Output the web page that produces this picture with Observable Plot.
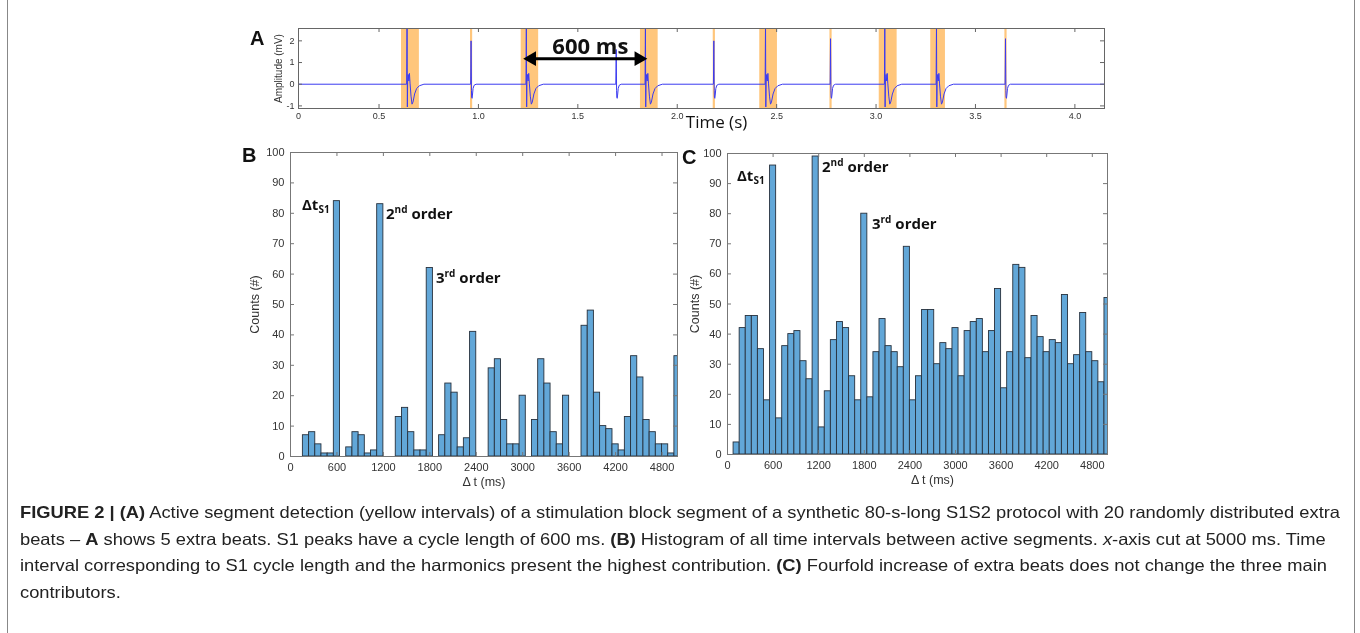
<!DOCTYPE html>
<html>
<head>
<meta charset="utf-8">
<script src="https://cdn.jsdelivr.net/npm/d3@7"></script>
<script src="https://cdn.jsdelivr.net/npm/@observablehq/plot@0.6"></script>
<style>
  body { margin: 0; background: #fff; }
  #fig { position: relative; width: 1360px; height: 633px; overflow: hidden; background: #fff; font-family: "Liberation Sans", Arial, sans-serif; }
  .letter { position: absolute; font-family: "Liberation Sans", Arial, sans-serif; font-weight: bold; font-size: 20px; color: #111; line-height: 1; }
  .ann { position: absolute; font-family: "Open Sans", sans-serif; font-weight: bold; font-size: 15px; color: #111; line-height: 1; white-space: nowrap; }
  .ann sup { font-size: 10px; vertical-align: 6px; }
  .ann sub { font-size: 10px; vertical-align: -3px; }
  .cap { position: absolute; left: 20px; white-space: nowrap; font-family: "Liberation Sans Narrow", "Arial Narrow", "Liberation Sans", sans-serif; font-size: 16.5px; color: #222; line-height: 26px; transform-origin: 0 0; }
  .border { position: absolute; top: 0; width: 0; height: 633px; border-left: 1.5px solid #888; }
</style>
</head>
<body>
<div id="fig"></div>
<script>
// ---------------- Panel A data (ECG trace, seconds / mV) ----------------
const aXDomain = [0.095, 4.149];
const aYDomain = [-1.12, 2.57];
const aXTicks = [0.095, 0.5, 1.0, 1.5, 2.0, 2.5, 3.0, 3.5, 4.0];
const aYTicks = [-1, 0, 1, 2];
// broad (paced) complexes inside active segments
const broadBeats = [0.641, 1.241, 1.840, 2.444, 3.044, 3.304];
// narrow spikes (extra beats) and their peak amplitudes
const narrowBeats = [0.963, 1.693, 2.184, 2.771, 3.651];
const narrowPeaks = [2.0, 1.6, 2.0, 2.1, 2.1];
// waveform shapes: [ms after onset, mV]
const broadShape = [[-2, 0], [0, 2.8], [1.5, -1.05], [3, 0.1], [6, 0.45], [9, 0.15], [12, 0.5], [15, 0.05], [20, -0.55], [25, -0.92], [30, -0.82], [38, -0.45], [48, -0.2], [62, -0.07], [85, 0]];
const narrowShape = [[-2, 0], [0, null], [2, -0.3], [3, -0.6], [5, -0.65], [7, -0.5], [10, -0.2], [15, -0.05], [25, 0]];
// detected active segments (yellow intervals)
const segStart = [0.613, 1.215, 1.815, 2.415, 3.016, 3.275];
const segEnd   = [0.703, 1.303, 1.904, 2.504, 3.106, 3.349];
const segLines = [0.963, 2.184, 2.771, 3.651];
// 600 ms annotation
const arrowFrom = 1.248, arrowTo = 1.827, arrowLevel = 1.18;

// ---------------- Panel B / C data (histograms, 80 ms bins) ----------------
const binWidth = 80;
const binStarts = d3.range(0, 5040, 80);
const countsB = [0, 0, 7, 8, 4, 1, 1, 84, 0, 3, 8, 7, 1, 2, 83, 0, 0, 13, 16, 8, 2, 2, 62, 0, 7, 24, 21, 3, 6, 41, 0, 0, 29, 32, 12, 4, 4, 20, 0, 12, 32, 24, 8, 4, 20, 0, 0, 43, 48, 21, 10, 9, 4, 2, 13, 33, 26, 12, 8, 4, 4, 1, 33];
const countsC = [0, 4, 42, 46, 46, 35, 18, 96, 12, 36, 40, 41, 31, 25, 99, 9, 21, 38, 44, 42, 26, 18, 80, 19, 34, 45, 36, 34, 29, 69, 18, 26, 48, 48, 30, 37, 35, 42, 26, 41, 44, 45, 34, 41, 55, 22, 34, 63, 62, 32, 46, 39, 34, 38, 37, 53, 30, 33, 47, 34, 31, 24, 52];
const hXTicks = [0, 600, 1200, 1800, 2400, 3000, 3600, 4200, 4800];
const hYTicks = [0, 10, 20, 30, 40, 50, 60, 70, 80, 90, 100];

// ---------------- helpers ----------------
const fig = document.getElementById("fig");
function place(node, left, top) {
  node.style.position = "absolute";
  node.style.left = left + "px";
  node.style.top = top + "px";
  fig.appendChild(node);
}
function boxMarks({xTicks, yTicks, fw, fh, len, stroke, xFmt, yFmt, xPad, yPad}) {
  return [
    Plot.tickX(xTicks, {x: d => d, stroke, insetBottom: fh - len}),
    Plot.tickX(xTicks, {x: d => d, stroke, insetTop: fh - len}),
    Plot.tickY(yTicks, {y: d => d, stroke, insetRight: fw - len}),
    Plot.tickY(yTicks, {y: d => d, stroke, insetLeft: fw - len}),
    Plot.axisX(xTicks, {tickSize: 0, tickPadding: xPad, tickFormat: xFmt, label: null}),
    Plot.axisY(yTicks, {tickSize: 0, tickPadding: yPad, tickFormat: yFmt, label: null}),
    Plot.frame({stroke, strokeWidth: 1})
  ];
}

// ---------------- Panel A ----------------
const beats = [
  ...broadBeats.map(t => ({t, shape: broadShape, peak: null})),
  ...narrowBeats.map((t, i) => ({t, shape: narrowShape, peak: narrowPeaks[i]}))
].sort((a, b) => a.t - b.t);
const ecg = [{t: aXDomain[0], v: 0}];
for (const b of beats) for (const [dt, v] of b.shape) ecg.push({t: b.t + dt / 1000, v: v === null ? b.peak : v});
ecg.push({t: aXDomain[1], v: 0});
const segs = segStart.map((s, i) => ({s, e: segEnd[i]}));

{
  const mL = 58, mR = 16, mT = 18, mB = 32, W = 880, H = 130;
  const fw = W - mL - mR, fh = H - mT - mB;
  const orange = "#FFC67C";
  const p = Plot.plot({
    width: W, height: H, marginLeft: mL, marginRight: mR, marginTop: mT, marginBottom: mB,
    x: {domain: aXDomain}, y: {domain: aYDomain},
    style: {fontFamily: "Liberation Sans, Arial, sans-serif", fontSize: "9px", color: "#333", overflow: "visible", background: "transparent"},
    marks: [
      Plot.rect(segs, {x1: "s", x2: "e", fill: orange}),
      Plot.ruleX(segLines, {x: d => d, stroke: orange, strokeWidth: 2.2}),
      Plot.line(ecg, {x: "t", y: "v", stroke: "#3a3af0", strokeWidth: 1, clip: true, mixBlendMode: "multiply"}),
      ...boxMarks({xTicks: aXTicks, yTicks: aYTicks, fw, fh, len: 4, stroke: "#666",
        xFmt: d => d < 0.1 ? "0" : d.toFixed(1), yFmt: d => String(d), xPad: 4, yPad: 4}),
      Plot.link([{}], {x1: () => arrowFrom + 0.02, x2: () => arrowTo - 0.02, y1: () => arrowLevel, y2: () => arrowLevel, stroke: "#000", strokeWidth: 3}),
      Plot.dot([{}], {x: () => arrowTo, y: () => arrowLevel, symbol: "triangle", rotate: 90, r: 5.5, fill: "#000", dx: -4}),
      Plot.dot([{}], {x: () => arrowFrom, y: () => arrowLevel, symbol: "triangle", rotate: -90, r: 5.5, fill: "#000", dx: 4}),
      Plot.text(["600 ms"], {x: () => 1.563, y: () => 1.74, text: d => d, fontFamily: "Open Sans", fontWeight: "bold", fontSize: 22, fill: "#111"}),
      Plot.text(["Amplitude (mV)"], {frameAnchor: "left", dx: -20, rotate: -90, textAnchor: "middle", lineAnchor: "middle", text: d => d, fontSize: 10, fill: "#333"}),
      Plot.text(["Time (s)"], {frameAnchor: "bottom", dx: 15, dy: 19, text: d => d, fontFamily: "Open Sans", fontSize: 17, fill: "#111"})
    ]
  });
  place(p, 240, 10);
}

// ---------------- Panels B and C ----------------
function histPanel(counts, {left, top, W, H, mL, mR, mT, mB, labelDx, countsDx}) {
  const fw = W - mL - mR, fh = H - mT - mB;
  const bins = binStarts.map((x, i) => ({x, c: counts[i]})).filter(d => d.c > 0);
  const p = Plot.plot({
    width: W, height: H, marginLeft: mL, marginRight: mR, marginTop: mT, marginBottom: mB,
    x: {domain: [0, 5000]}, y: {domain: [0, 100]},
    style: {fontFamily: "Liberation Sans, Arial, sans-serif", fontSize: "11px", color: "#333", overflow: "visible", background: "transparent"},
    marks: [
      Plot.rect(bins, {x1: "x", x2: d => d.x + binWidth, y1: () => 0, y2: "c", fill: "#62a7d8", stroke: "#27313d", strokeWidth: 0.9, clip: true}),
      ...boxMarks({xTicks: hXTicks, yTicks: hYTicks, fw, fh, len: 4, stroke: "#777",
        xFmt: d => String(d), yFmt: d => String(d), xPad: 7, yPad: 6}),
      Plot.text(["\u0394 t (ms)"], {frameAnchor: "bottom", dx: labelDx, dy: 29, text: d => d, fontSize: 12.5, fill: "#333"}),
      Plot.text(["Counts (#)"], {frameAnchor: "left", dx: countsDx, rotate: -90, textAnchor: "middle", lineAnchor: "middle", text: d => d, fontSize: 12.5, fill: "#333"})
    ]
  });
  place(p, left, top);
}
histPanel(countsB, {left: 240, top: 140, W: 450, H: 356, mL: 50, mR: 13, mT: 12, mB: 40, labelDx: 0, countsDx: -36});
histPanel(countsC, {left: 680, top: 140, W: 440, H: 354, mL: 47, mR: 13, mT: 13, mB: 40, labelDx: 15, countsDx: -33});

// ---------------- letters & annotations ----------------
function html(cls, inner, left, top) {
  const d = document.createElement("div");
  d.className = cls;
  d.innerHTML = inner;
  place(d, left, top);
  return d;
}
html("letter", "A", 250, 28);
html("letter", "B", 242, 145);
html("letter", "C", 682, 147);
html("ann", "\u0394t<sub>S1</sub>", 302, 197);
html("ann", "2<sup>nd</sup> order", 386, 204);
html("ann", "3<sup>rd</sup> order", 436, 268);
html("ann", "\u0394t<sub>S1</sub>", 737, 168);
html("ann", "2<sup>nd</sup> order", 822, 157);
html("ann", "3<sup>rd</sup> order", 872, 214);

// ---------------- caption ----------------
const capLines = [
  "<b>FIGURE 2 | (A)</b> Active segment detection (yellow intervals) of a stimulation block segment of a synthetic 80-s-long S1S2 protocol with 20 randomly distributed extra",
  "beats \u2013 <b>A</b> shows 5 extra beats. S1 peaks have a cycle length of 600 ms. <b>(B)</b> Histogram of all time intervals between active segments. <i>x</i>-axis cut at 5000 ms. Time",
  "interval corresponding to S1 cycle length and the harmonics present the highest contribution. <b>(C)</b> Fourfold increase of extra beats does not change the three main",
  "contributors."
];
const capDivs = capLines.map((s, i) => html("cap", s, 20, 499 + i * 26.5));
const w0 = capDivs[0].getBoundingClientRect().width;
const sc = 1320 / w0;
capDivs.forEach(d => d.style.transform = `scaleX(${sc})`);

// frame lines of the figure box
const bl = document.createElement("div"); bl.className = "border"; place(bl, 7, 0);
const br = document.createElement("div"); br.className = "border"; place(br, 1354, 0);
</script>
</body>
</html>
